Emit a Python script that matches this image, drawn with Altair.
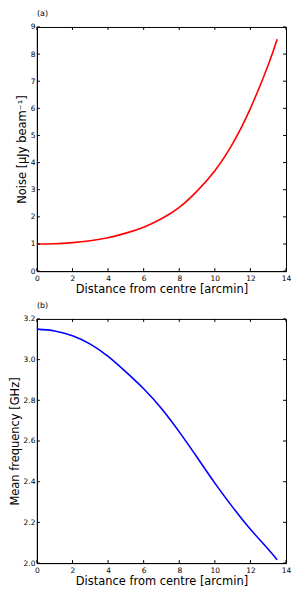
import altair as alt
import pandas as pd

# Data
dist = [0, 1, 2, 3, 4, 5, 6, 7, 8, 9, 10, 11, 12, 13, 13.5]
noise = [1.00, 1.01, 1.05, 1.12, 1.23, 1.40, 1.62, 1.93, 2.35, 2.95, 3.70, 4.70, 6.00, 7.60, 8.55]
freq = [3.150, 3.141, 3.117, 3.076, 3.016, 2.940, 2.857, 2.760, 2.645, 2.520, 2.393, 2.275, 2.166, 2.068, 2.016]
x_ticks = [0, 2, 4, 6, 8, 10, 12, 14]
noise_ticks = [0, 1, 2, 3, 4, 5, 6, 7, 8, 9]
freq_ticks = [2.0, 2.2, 2.4, 2.6, 2.8, 3.0, 3.2]

W, H = 250, 245
TL = 3  # inner tick length
FONT = "DejaVu Sans"


def panel(label, yvals, ytitle, ydomain, yticks, color, fmt):
    df = pd.DataFrame({"d": dist, "v": yvals})
    xs = alt.Scale(domain=[0, 14], nice=False, zero=False)
    ys = alt.Scale(domain=ydomain, nice=False, zero=False)
    xaxis = alt.Axis(title="Distance from centre [arcmin]", values=x_ticks, format="d",
                     ticks=False, grid=False, labelPadding=3, labelFlush=False,
                     labelOverlap=False, titlePadding=2)
    yaxis = alt.Axis(title=ytitle, values=yticks, format=fmt, ticks=False, grid=False,
                     labelPadding=2, labelFlush=False, labelOverlap=False, titlePadding=3)
    line = alt.Chart(df).mark_line(color=color, strokeWidth=1.6, interpolate="natural").encode(
        x=alt.X("d:Q", scale=xs, axis=xaxis),
        y=alt.Y("v:Q", scale=ys, axis=yaxis),
    )
    xt = pd.DataFrame({"d": x_ticks})
    yt = pd.DataFrame({"v": yticks})
    bx = alt.Chart(xt).mark_rule(color="black", strokeWidth=1).encode(
        x=alt.X("d:Q", scale=xs, axis=xaxis), y=alt.value(H), y2=alt.value(H - TL))
    tx = alt.Chart(xt).mark_rule(color="black", strokeWidth=1).encode(
        x=alt.X("d:Q", scale=xs, axis=xaxis), y=alt.value(0), y2=alt.value(TL))
    ly = alt.Chart(yt).mark_rule(color="black", strokeWidth=1).encode(
        y=alt.Y("v:Q", scale=ys, axis=yaxis), x=alt.value(0), x2=alt.value(TL))
    ry = alt.Chart(yt).mark_rule(color="black", strokeWidth=1).encode(
        y=alt.Y("v:Q", scale=ys, axis=yaxis), x=alt.value(W), x2=alt.value(W - TL))
    return alt.layer(line, bx, tx, ly, ry).properties(
        width=W, height=H,
        title=alt.TitleParams(label, anchor="start", frame="group", fontSize=8,
                              fontWeight="normal", offset=5, font=FONT, color="black"),
    )


top = panel("(a)", noise, "Noise [μJy beam⁻¹]", [0, 9], noise_ticks, "#ff0000", "d")
bottom = panel("(b)", freq, "Mean frequency [GHz]", [2.0, 3.2], freq_ticks, "#0000ff", ".1f")

chart = alt.vconcat(top, bottom, spacing=5).properties(
    padding={"left": 0, "top": 0, "right": 0, "bottom": 0}
).configure_view(
    stroke="black", strokeWidth=1
).configure_axis(
    domainColor="black", domainWidth=1, labelFont=FONT, titleFont=FONT,
    labelFontSize=7.5, titleFontSize=11.5, labelColor="black", titleColor="black",
    titleFontWeight="normal",
)

chart.save("out.html", embed_options={"renderer": "svg", "actions": False})
